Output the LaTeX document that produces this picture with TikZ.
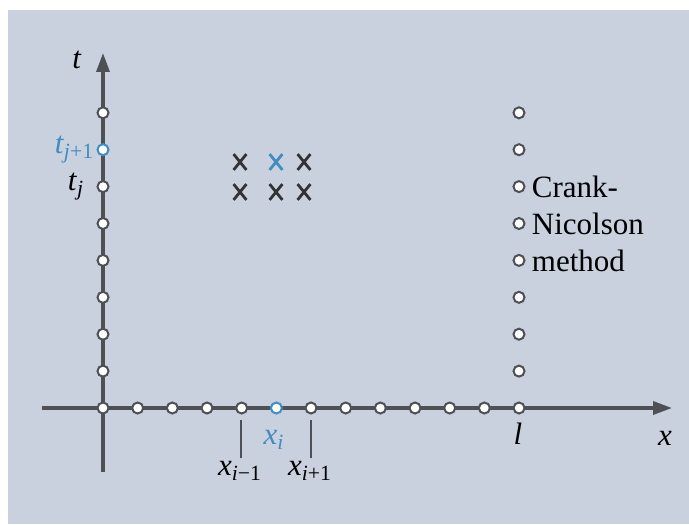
\documentclass[tikz,border=0pt]{standalone}
\usepackage{fontspec}
\setmainfont{Liberation Serif}
\usetikzlibrary{arrows.meta,shapes.misc}
\definecolor{panel}{RGB}{201,208,222}
\definecolor{axisgray}{RGB}{78,80,86}
\definecolor{meshblue}{RGB}{66,140,196}
\newcommand{\idx}[2]{\textit{#1}\textsubscript{#2}}
\begin{document}
\begin{tikzpicture}[x=0.5pt, y=-0.5pt, font=\fontsize{15.5}{18}\selectfont,
  axis/.style={draw=axisgray, line width=1.7pt, -{Triangle[length=9.5pt,width=6.5pt]}},
  mesh/.style={circle, draw=axisgray, fill=white, line width=1pt, inner sep=0pt, minimum size=5.5pt},
  hot/.style={mesh, draw=meshblue},
  crossmark/.style={cross out, draw=black!80, line width=1.4pt, inner sep=0pt, minimum width=5pt, minimum height=6.5pt},
  tickline/.style={draw=axisgray, line width=0.9pt}]
  \fill[white] (0,0) rectangle (689,524);
  \fill[panel] (8,10) rectangle (689,524);
  \useasboundingbox (0,0) rectangle (689,524);
  % axes
  \coordinate (xfrom) at (42,408); \coordinate (xto) at (672,408);
  \coordinate (tfrom) at (103,472); \coordinate (tto) at (103,53);
  \draw[axis] (xfrom) -- (xto);
  \draw[axis] (tfrom) -- (tto);
  \node (tname) at (77,60) {\textit{t}};
  \node (xname) at (665,438) {\textit{x}};
  % mesh points
  \foreach \i in {0,1,2,3,4,6,7,8,9,10,11,12}
    \node[mesh] (x\i) at ({103+34.67*\i},408) {};
  \node[hot] (x5) at ({103+34.67*5},408) {};
  \foreach \j in {1,2,3,4,5,6,8} {
    \node[mesh] (t\j) at (103,{408-36.9*\j}) {};
  }
  \node[hot] (t7) at (103,{408-36.9*7}) {};
  \foreach \j in {1,...,8}
    \node[mesh] (r\j) at (519,{408-36.9*\j}) {};
  \node[meshblue, anchor=east, inner sep=1pt] (tjone) at (t7.west) {\idx{t}{\textit{j}+1}};
  \node[anchor=east, inner sep=1pt] (tj) at ([xshift=-5pt]t6.west) {\idx{t}{\textit{j}}};
  % stencil
  \node[crossmark] (cl) at (240,162) {};
  \node[crossmark, draw=meshblue] (cm) at (276,162) {};
  \node[crossmark] (cr) at (304,162) {};
  \node[crossmark] (bl) at (240,192) {};
  \node[crossmark] (bm) at (276,192) {};
  \node[crossmark] (br) at (304,192) {};
  % labels on the x axis
  \coordinate (lefttop) at (241,420); \coordinate (leftbot) at (241,458);
  \coordinate (righttop) at (311,420); \coordinate (rightbot) at (311,458);
  \draw[tickline] (lefttop) -- (leftbot);
  \draw[tickline] (righttop) -- (rightbot);
  \node[meshblue] (xi) at (274,440) {\idx{x}{\textit{i}}};
  \node (xim) at (240,471) {\idx{x}{\textit{i}−1}};
  \node (xip) at (310,471) {\idx{x}{\textit{i}+1}};
  \node (lname) at (518,434) {\textit{l}};
  % method name
  \node[anchor=west, inner sep=1pt] (crank) at ([xshift=2pt]r6.east) {Crank-};
  \node[anchor=west, inner sep=1pt] (nicol) at ([xshift=2pt]r5.east) {Nicolson};
  \node[anchor=west, inner sep=1pt] (meth) at ([xshift=2pt]r4.east) {method};
\end{tikzpicture}
\end{document}
